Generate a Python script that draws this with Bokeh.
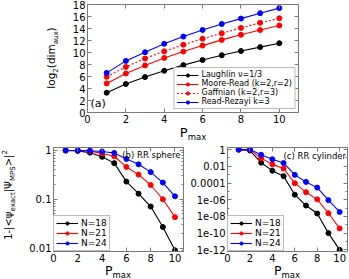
from bokeh.plotting import figure
from bokeh.models import (Range1d, FixedTicker, LinearAxis, LogAxis, Legend, LegendItem,
                          Label, CustomJSTickFormatter, Div)
from bokeh.layouts import column, row
from bokeh.embed import file_html
from bokeh.resources import INLINE

# ---------------- data ----------------
p_max = [1, 2, 3, 4, 5, 6, 7, 8, 9, 10]

# panel (a): log2(dim_aux)
laughlin = [3.3, 4.75, 5.9, 6.95, 7.9, 8.75, 9.55, 10.25, 10.9, 11.55]
moore_read = [4.85, 6.5, 7.85, 9.1, 10.15, 11.15, 12.1, 12.95, 13.75, 14.5]
gaffnian = [5.95, 7.6, 9.0, 10.2, 11.3, 12.3, 13.2, 14.1, 14.95, 15.7]
read_rezayi = [6.6, 8.6, 10.05, 11.45, 12.65, 13.75, 14.75, 15.65, 16.55, 17.4]
a_names = ["Laughlin \u03bd=1/3", "Moore-Read (k=2,r=2)", "Gaffnian (k=2,r=3)", "Read-Rezayi k=3"]

# panel (b): RR sphere
b_n18 = [1.0, 0.98, 0.9, 0.74, 0.55, 0.23, 0.13, 0.071, 0.027, 0.009]
b_n21 = [1.0, 1.0, 0.97, 0.87, 0.76, 0.46, 0.32, 0.196, 0.1, 0.043]
b_n24 = [1.0, 1.0, 0.99, 0.95, 0.89, 0.67, 0.52, 0.36, 0.22, 0.115]

# panel (c): RR cylinder
c_n18 = [1.0, 0.77, 0.027, 0.003, 6.6e-4, 4e-6, 2e-7, 2.2e-8, 1e-10, 1e-12]
c_n21 = [1.0, 1.0, 0.09, 0.017, 0.0055, 9.5e-5, 8e-6, 1.1e-6, 2.4e-8, 3.7e-10]
c_n24 = [1.0, 1.0, 0.24, 0.07, 0.025, 9.4e-4, 1.35e-4, 2.8e-5, 8.9e-7, 3.4e-8]
n_names = ["N=18", "N=21", "N=24"]

# ticks
a_xticks = [0, 2, 4, 6, 8, 10]
a_yticks = [0, 2, 4, 6, 8, 10, 12, 14, 16, 18]
bc_xticks = [0, 2, 4, 6, 8, 10]
b_yticks = [0.01, 0.1, 1]
b_ytick_labels = ["0.01", "0.1", "1"]
c_yticks = [1e-12, 1e-10, 1e-08, 1e-06, 1e-04, 1e-02, 1]
c_ytick_labels = ["1e-12", "1e-10", "1e-08", "1e-06", "0.0001", "0.01", "1"]

FRAME = "#7a7a7a"
FONT = "DejaVu Sans"
BLACK, RED, BLUE = "#000000", "#ff0000", "#0000ff"


def style_axis(ax, mirror=False):
    ax.axis_line_color = FRAME
    ax.major_tick_line_color = FRAME
    ax.minor_tick_line_color = FRAME
    ax.major_tick_in = 4
    ax.major_tick_out = 0
    ax.minor_tick_in = 2
    ax.minor_tick_out = 0
    ax.major_label_text_font = FONT
    ax.major_label_text_font_size = "10px"
    ax.major_label_text_color = "black"
    ax.major_label_standoff = 2
    if mirror:
        ax.formatter = CustomJSTickFormatter(code="return ''")
        ax.major_label_text_font_size = "0px"
        ax.major_label_standoff = 0


def base_fig(w, h, xr, yr, borders, ylog=False):
    l, r, t, b = borders
    p = figure(width=w, height=h, x_range=xr, y_range=yr, output_backend="svg",
               toolbar_location=None, y_axis_type="log" if ylog else "linear",
               min_border_left=l, min_border_right=r, min_border_top=t, min_border_bottom=b)
    p.grid.visible = False
    p.outline_line_color = FRAME
    p.outline_line_width = 1
    p.background_fill_color = "white"
    p.border_fill_color = "white"
    return p


def style_legend(leg, font, row_h, glyph_w):
    leg.label_text_font = FONT
    leg.label_text_font_size = font
    leg.label_text_color = "black"
    leg.label_height = row_h
    leg.glyph_height = row_h
    leg.glyph_width = glyph_w
    leg.label_text_line_height = 1.0
    leg.spacing = 0
    leg.padding = 2
    leg.label_standoff = 3
    leg.border_line_color = FRAME
    leg.border_line_width = 1
    leg.background_fill_color = "white"
    leg.background_fill_alpha = 1


def sub(t, fs, shift):
    return f'<span style="font-size:{fs}px;vertical-align:{shift}px;line-height:1">{t}</span>'


def rot_div(w, h, cx, cy, inner, fs):
    html = (f'<div style="position:relative;width:{w}px;height:{h}px;font-family:\'{FONT}\';color:#000">'
            f'<span style="position:absolute;left:{cx}px;top:{cy}px;white-space:nowrap;'
            f'font-size:{fs}px;line-height:1;transform:translate(-50%,-50%) rotate(-90deg)">'
            f'{inner}</span></div>')
    return Div(text=html, width=w, height=h, margin=0)


def hor_div(w, h, cx, top, inner, fs):
    html = (f'<div style="position:relative;width:{w}px;height:{h}px;font-family:\'{FONT}\';color:#000">'
            f'<span style="position:absolute;left:{cx}px;top:{top}px;white-space:nowrap;'
            f'font-size:{fs}px;line-height:1;transform:translate(-50%,0)">'
            f'{inner}</span></div>')
    return Div(text=html, width=w, height=h, margin=0)


# ---------------- panel (a) ----------------
pa = base_fig(289, 126, Range1d(0, 11), Range1d(0, 18), (27, 51, 4, 14))
pa.xaxis.ticker = FixedTicker(ticks=a_xticks)
pa.yaxis.ticker = FixedTicker(ticks=a_yticks)
for ax in pa.xaxis + pa.yaxis:
    style_axis(ax)
top_ax = LinearAxis(ticker=FixedTicker(ticks=a_xticks))
right_ax = LinearAxis(ticker=FixedTicker(ticks=a_yticks))
style_axis(top_ax, True)
style_axis(right_ax, True)
pa.add_layout(top_ax, "above")
pa.add_layout(right_ax, "right")

items = []
for ys, col, dash, name in [(laughlin, BLACK, "solid", a_names[0]),
                            (moore_read, RED, "solid", a_names[1]),
                            (gaffnian, RED, "2 2", a_names[2]),
                            (read_rezayi, BLUE, "solid", a_names[3])]:
    lr = pa.line(p_max, ys, line_color=col, line_width=1.1, line_dash=dash)
    sr = pa.scatter(p_max, ys, size=5, fill_color=col, line_color=col)
    items.append(LegendItem(label=name, renderers=[lr, sr]))
leg_a = Legend(items=items, location="bottom_right")
style_legend(leg_a, "8px", 8, 22)
leg_a.margin = 3
pa.add_layout(leg_a, "center")
pa.add_layout(Label(x=3, y=9, x_units="screen", y_units="screen", text="(a)", text_font=FONT,
                    text_font_size="11px", text_baseline="middle", text_color="black"))

ya_div = rot_div(60, 126, 53, 58,
                 "log" + sub("2", 7, -3) + "(dim" + sub("aux", 7, -3) + ")", 10.5)
pa_xlabel = hor_div(349, 17, 193, 0, "P" + sub("max", 8.5, -3), 13)


# ---------------- panels (b), (c) ----------------
def bottom_panel(w, borders, yr, yticks, ylabels, minor, data, title, fw, fh, tx, ty):
    p = base_fig(w, 122, Range1d(0, 10.7), yr, borders, ylog=True)
    p.xaxis.ticker = FixedTicker(ticks=bc_xticks)
    p.yaxis.ticker = FixedTicker(ticks=yticks, minor_ticks=minor)
    p.yaxis.major_label_overrides = dict(zip(yticks, ylabels))
    for ax in p.xaxis + p.yaxis:
        style_axis(ax)
    ta = LinearAxis(ticker=FixedTicker(ticks=bc_xticks))
    ra = LogAxis(ticker=FixedTicker(ticks=yticks, minor_ticks=minor))
    style_axis(ta, True)
    style_axis(ra, True)
    p.add_layout(ta, "above")
    p.add_layout(ra, "right")
    its = []
    for ys, col, name in data:
        lr = p.line(p_max, ys, line_color=col, line_width=1.1)
        sr = p.scatter(p_max, ys, size=5, fill_color=col, line_color=col)
        its.append(LegendItem(label=name, renderers=[lr, sr]))
    leg = Legend(items=its, location="bottom_left")
    style_legend(leg, "9px", 8, 22)
    leg.margin = 0
    p.add_layout(leg, "center")
    p.add_layout(Label(x=tx, y=ty, x_units="screen", y_units="screen", text=title,
                       text_font=FONT, text_font_size="8.5px", text_align="right",
                       text_baseline="middle", text_color="black"))
    return p


b_minor = [m * 10.0 ** e for e in (-3, -2, -1, 0) for m in range(2, 10)]
pb = bottom_panel(166, (33, 3, 4, 14), Range1d(0.0085, 1.15), b_yticks, b_ytick_labels, b_minor,
                  [(b_n18, BLACK, n_names[0]), (b_n21, RED, n_names[1]), (b_n24, BLUE, n_names[2])],
                  "(b) RR sphere", 130, 104, 127, 97)
pb_xlabel = hor_div(166, 14, 98, 0, "P" + sub("max", 8.5, -3), 12.5)

c_minor = [10.0 ** e for e in range(-13, 1, 2)]
pc = bottom_panel(163, (41, 2, 4, 14), Range1d(10 ** -12.2, 10 ** 0.25), c_yticks, c_ytick_labels,
                  c_minor,
                  [(c_n18, BLACK, n_names[0]), (c_n21, RED, n_names[1]), (c_n24, BLUE, n_names[2])],
                  "(c) RR cylinder", 120, 104, 118.5, 96)
pc_xlabel = hor_div(163, 14, 101, 0, "P" + sub("max", 8.5, -3), 12.5)

yb_div = rot_div(20, 136, 9, 52,
                 "1-|&lt;\u03c8" + sub("exact", 7, -3) + "|\u03a8" + sub("MPS", 7, -3)
                 + "&gt;|" + sub("2", 7, 5), 10)

layout = column(
    row(ya_div, pa),
    pa_xlabel,
    row(yb_div, column(pb, pb_xlabel), column(pc, pc_xlabel)),
)
open("out.html", "w").write(file_html(layout, INLINE))
